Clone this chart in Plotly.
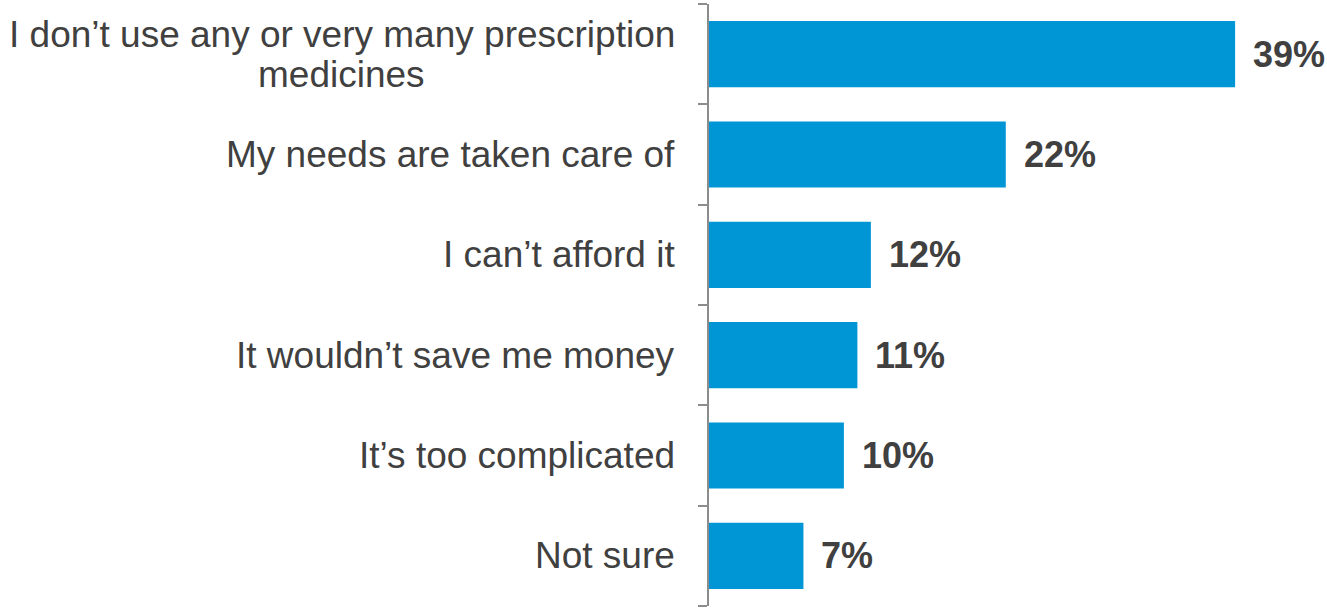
import plotly.graph_objects as go

# Survey responses (top to bottom) and their shares in percent
categories = [
    "I don\u2019t use any or very many prescription\nmedicines",
    "My needs are taken care of",
    "I can\u2019t afford it",
    "It wouldn\u2019t save me money",
    "It\u2019s too complicated",
    "Not sure",
]
values = [39, 22, 12, 11, 10, 7]

BAR_COLOR = "#0096D6"
TEXT_COLOR = "#404040"
AXIS_COLOR = "#8C8C8C"
FONT = "Liberation Sans, Arial, sans-serif"
LABEL_SIZE = 37
VALUE_SIZE = 36
LINE_HEIGHT = 40      # spacing between lines of a wrapped label
LABEL_GAP = 32        # gap between label block and the axis line

# Advance widths (per 1000 em) of the regular sans face, used to centre the
# lines of a wrapped label under each other
ADVANCE = {
    " ": 278, "I": 278, "M": 833, "N": 722, "\u2019": 222,
    "a": 556, "c": 500, "d": 556, "e": 556, "f": 278, "i": 222, "k": 500,
    "l": 222, "m": 833, "n": 556, "o": 556, "p": 556, "r": 333, "s": 500,
    "t": 278, "u": 556, "v": 500, "w": 722, "y": 500,
}


def text_width(s, size):
    return sum(ADVANCE.get(ch, 556) for ch in s) * size / 1000


fig = go.Figure(
    go.Bar(
        x=values,
        y=list(range(len(categories))),
        orientation="h",
        marker=dict(color=BAR_COLOR, line=dict(width=0)),
        width=0.66,
        hoverinfo="skip",
    )
)

annotations = []
for i, (label, val) in enumerate(zip(categories, values)):
    lines = label.split("\n")
    n = len(lines)
    widest = max(text_width(ln, LABEL_SIZE) for ln in lines)
    for j, ln in enumerate(lines):
        # right edge of the widest line sits at the gap; shorter lines are centred
        dx = (widest - text_width(ln, LABEL_SIZE)) / 2
        dy = ((n - 1) / 2 - j) * LINE_HEIGHT
        annotations.append(
            dict(
                x=0, xref="paper", y=i, yref="y",
                text=ln, showarrow=False,
                xanchor="right", yanchor="middle",
                xshift=-LABEL_GAP - dx, yshift=dy,
                font=dict(family=FONT, size=LABEL_SIZE, color=TEXT_COLOR),
            )
        )
    # value label right of the bar
    annotations.append(
        dict(
            x=val, xref="x", y=i, yref="y",
            text=f"<b>{val}%</b>", showarrow=False,
            xanchor="left", yanchor="middle",
            xshift=16,
            font=dict(family=FONT, size=VALUE_SIZE, color=TEXT_COLOR),
        )
    )

fig.update_layout(
    width=1327,
    height=612,
    margin=dict(l=709, r=0, t=4, b=6),
    paper_bgcolor="white",
    plot_bgcolor="white",
    showlegend=False,
    annotations=annotations,
    xaxis=dict(
        range=[0, 618 / 13.49],
        visible=False,
        fixedrange=True,
    ),
    yaxis=dict(
        range=[len(categories) - 0.5, -0.5],
        tickmode="array",
        tickvals=[i - 0.5 for i in range(len(categories) + 1)],
        ticktext=[""] * (len(categories) + 1),
        ticks="outside",
        ticklen=9,
        tickwidth=1.5,
        tickcolor=AXIS_COLOR,
        showline=True,
        linecolor=AXIS_COLOR,
        linewidth=1.5,
        showgrid=False,
        zeroline=False,
        fixedrange=True,
    ),
)

fig.write_html("out.html")
